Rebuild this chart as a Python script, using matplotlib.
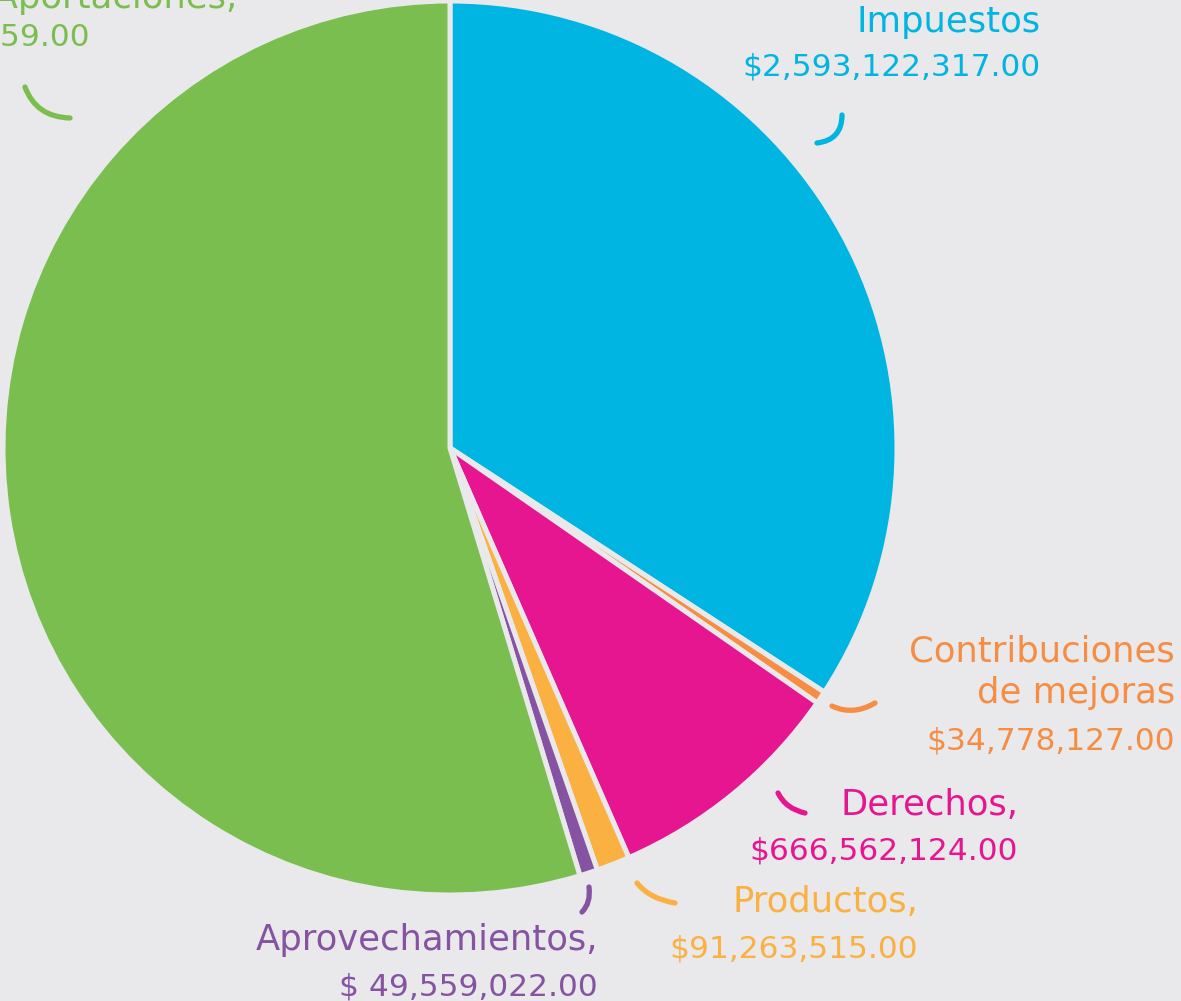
import matplotlib
matplotlib.use("Agg")
import matplotlib.pyplot as plt
from matplotlib.path import Path
from matplotlib.patches import PathPatch

# ---- data ----
categories = ["Impuestos", "Contribuciones de mejoras", "Derechos", "Productos",
              "Aprovechamientos", "Participaciones y Aportaciones"]
values = [2593122317.00, 34778127.00, 666562124.00, 91263515.00,
          49559022.00, 4147218459.00]
colors = ["#00B5E2", "#F68D42", "#E61691", "#FBB042", "#8653A2", "#7ABE4F"]
label_names = [["Impuestos"], ["Contribuciones", "de mejoras"], ["Derechos,"],
               ["Productos,"], ["Aprovechamientos,"], ["Participaciones y Aportaciones,"]]
label_values = ["$2,593,122,317.00", "$34,778,127.00", "$666,562,124.00",
                "$91,263,515.00", "$ 49,559,022.00", "$4,147,218,459.00"]

BG = "#E9E9EB"
W, H = 1181, 1001

fig = plt.figure(figsize=(W / 100, H / 100), dpi=100, facecolor=BG)
ax = fig.add_axes([0, 0, 1, 1])
ax.set_facecolor(BG)

def Y(y):
    return H - y

ax.pie(values, colors=colors, startangle=90, counterclock=False,
       center=(450, Y(448)), radius=447,
       wedgeprops=dict(edgecolor=BG, linewidth=3.6))
ax.set_xlim(0, W)
ax.set_ylim(0, H)
ax.set_aspect("equal")
ax.axis("off")

FONT = "DejaVu Sans"
WORD_SIZE = 25.5
NUM_SIZE = 22.5

# label layout: (right x, [baselines of name lines], baseline of value line)
layout = [
    (1041, [32], 75),
    (1175, [662, 703], 750),
    (1018, [815], 860),
    (918, [912], 957),
    (598, [950], 995),
]
for i, (xr, name_bases, vbase) in enumerate(layout):
    for line, yb in zip(label_names[i], name_bases):
        ax.text(xr, Y(yb), line, ha="right", va="baseline", color=colors[i],
                fontsize=WORD_SIZE, family=FONT)
    ax.text(xr, Y(vbase), label_values[i], ha="right", va="baseline",
            color=colors[i], fontsize=NUM_SIZE, family=FONT)

# green label (partially outside the canvas)
ax.text(237, Y(8), label_names[5][0], ha="right", va="baseline", color=colors[5],
        fontsize=WORD_SIZE, family=FONT)
ax.text(90, Y(46), label_values[5], ha="right", va="baseline", color=colors[5],
        fontsize=NUM_SIZE, family=FONT)

# connector arcs: (start, control, end) in image coords
connectors = [
    ((842, 115), (842, 140), (817, 143)),
    ((832, 706), (853, 716), (875, 703)),
    ((778, 793), (786, 809), (805, 813)),
    ((637, 883), (650, 899), (675, 903)),
    ((589, 887), (591, 903), (582, 912)),
    ((25, 87), (36, 117), (70, 118)),
]
for i, (p0, p1, p2) in enumerate(connectors):
    path = Path([(p0[0], Y(p0[1])), (p1[0], Y(p1[1])), (p2[0], Y(p2[1]))],
                [Path.MOVETO, Path.CURVE3, Path.CURVE3])
    ax.add_patch(PathPatch(path, fill=False, edgecolor=colors[i], lw=3.8,
                           capstyle="round"))

fig.savefig("out.png", dpi=100, facecolor=BG)
